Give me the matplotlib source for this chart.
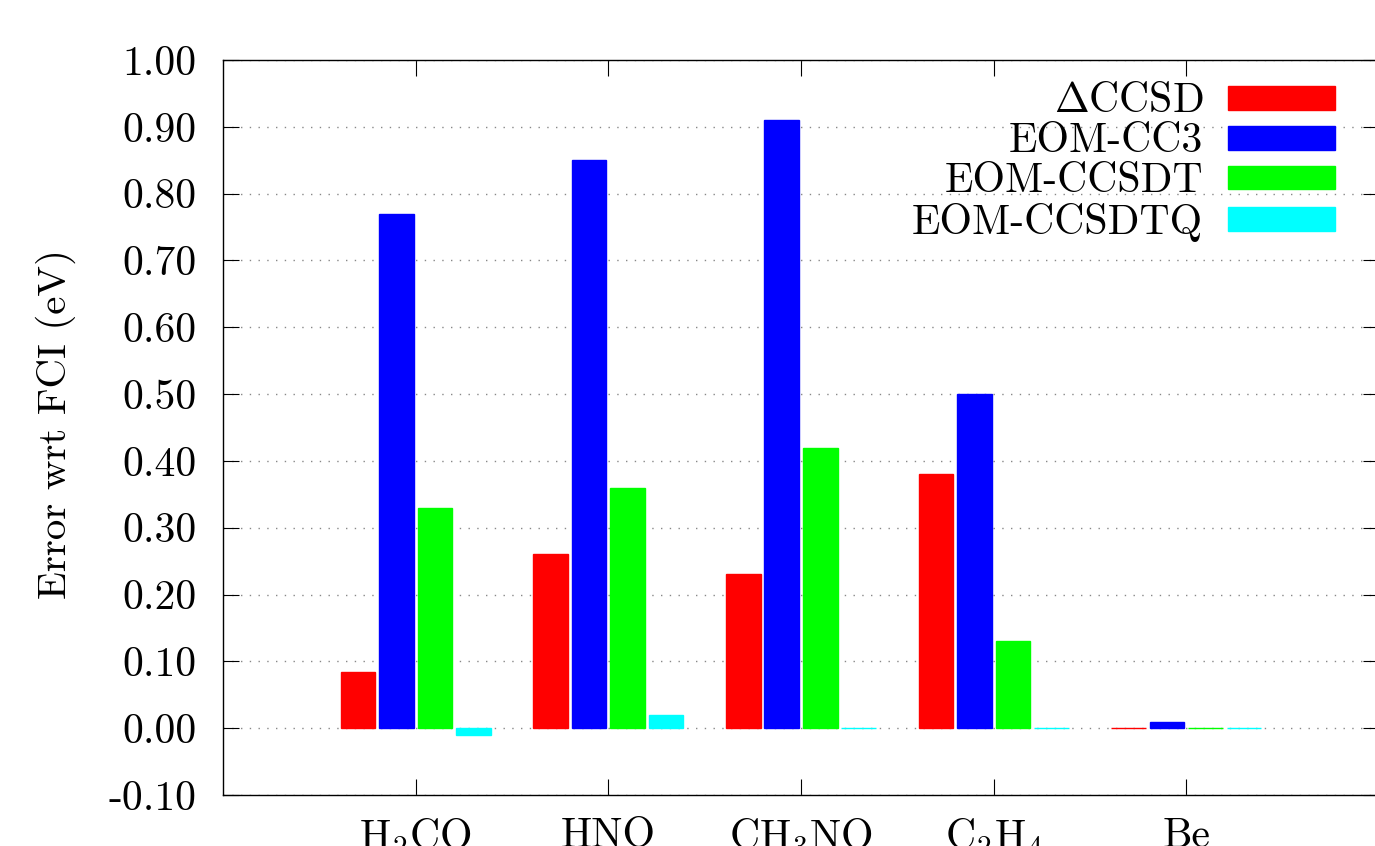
# 분자별 여기 에너지 오차 (FCI 기준) 막대 그래프

import numpy as np
import matplotlib
matplotlib.use('Agg')
import matplotlib.pyplot as plt
from matplotlib.ticker import FixedLocator, FixedFormatter

# 데이터
molecules = [r'H$_2$CO', 'HNO', r'CH$_3$NO', r'C$_2$H$_4$', 'Be']
methods = [r'$\Delta$CCSD', 'EOM-CC3', 'EOM-CCSDT', 'EOM-CCSDTQ']
colors = ['#ff0000', '#0000ff', '#00ff00', '#00ffff']

dccsd = [0.084, 0.26, 0.23, 0.38, 0.00]
eom_cc3 = [0.77, 0.85, 0.91, 0.50, 0.01]
eom_ccsdt = [0.33, 0.36, 0.42, 0.13, 0.00]
eom_ccsdtq = [-0.01, 0.02, 0.00, 0.00, 0.00]

y_ticks = [-0.10, 0.00, 0.10, 0.20, 0.30, 0.40, 0.50, 0.60, 0.70, 0.80, 0.90, 1.00]

# 폰트 설정 (LaTeX 느낌)
plt.rcParams['font.family'] = ['cmr10', 'DejaVu Serif']
plt.rcParams['mathtext.fontset'] = 'cm'
plt.rcParams['axes.unicode_minus'] = False
plt.rcParams['font.size'] = 30

fig = plt.figure(facecolor='white', figsize=(13.75, 8.46), dpi=100)
ax = fig.add_axes([223 / 1375, 51 / 846, 1156 / 1375, 735 / 846])

x = np.arange(len(molecules))
step = 0.2
width = 0.18
series = [dccsd, eom_cc3, eom_ccsdt, eom_ccsdtq]
for i, (vals, name, c) in enumerate(zip(series, methods, colors)):
    ax.bar(x + (i - 1.5) * step, vals, width, color=c, edgecolor=c,
           linewidth=1.0, label=name, zorder=3)

ax.set_xlim(-1, 5)
ax.set_ylim(-0.10, 1.00)

ax.set_xticks(x)
ax.set_xticklabels(molecules)
ax.yaxis.set_major_locator(FixedLocator(y_ticks))
ax.yaxis.set_major_formatter(FixedFormatter(['%.2f' % v for v in y_ticks]))

ax.tick_params(axis='both', direction='in', length=11.5, width=0.8,
               top=True, right=True, labelsize=30)
ax.tick_params(axis='y', pad=19)
ax.tick_params(axis='x', pad=16)
for s in ax.spines.values():
    s.set_linewidth(1.0)

ax.grid(axis='y', color='#888888', linestyle=(0, (1, 5.3)), linewidth=1.0, zorder=0)
ax.set_axisbelow(True)

ax.set_ylabel('Error wrt FCI (eV)', fontsize=29.5)
ax.yaxis.set_label_coords(-0.127, 0.505)

ax.legend(loc='upper right', bbox_to_anchor=(0.991, 1.014), frameon=False,
          markerfirst=False, handlelength=2.57, handleheight=0.5,
          handletextpad=0.6, labelspacing=0.06, borderaxespad=0.4,
          fontsize=30)

plt.savefig('out.png', dpi=100, facecolor='white')
plt.close(fig)
